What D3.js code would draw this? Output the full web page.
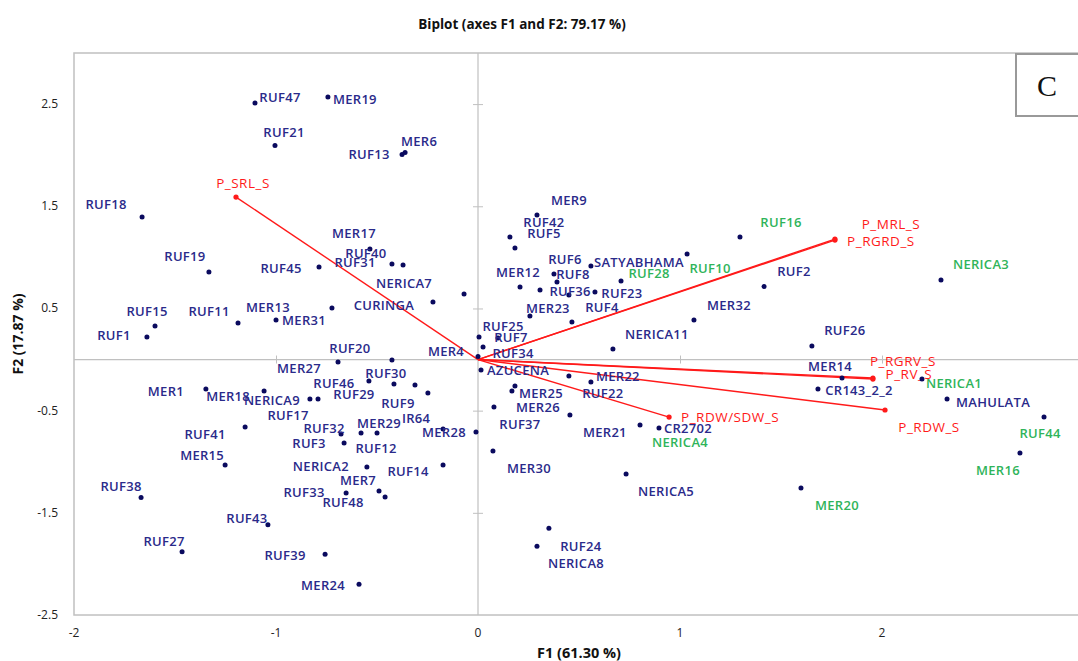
<!DOCTYPE html>
<html>
<head>
<meta charset="utf-8">
<script src="https://cdn.jsdelivr.net/npm/d3@7"></script>
<style>
  body { margin: 0; background: #fff; }
  text { font-family: "Open Sans", "Liberation Sans", sans-serif; }
</style>
</head>
<body>
<script>
// observations (genotypes)
var genotypes = ["RUF47","MER19","RUF21","RUF13","MER6","RUF18","RUF19","RUF45","MER17","RUF40",
  "RUF31","NERICA7","CURINGA","MER13","MER31","RUF11","RUF15","RUF1","MER27","RUF20",
  "MER4","MER9","RUF42","RUF5","RUF16","RUF10","SATYABHAMA","RUF6","RUF8","MER12",
  "RUF36","RUF23","RUF28","RUF4","MER23","RUF25","RUF7","RUF34","AZUCENA","NERICA11",
  "MER32","RUF2","NERICA3","RUF26","MER14","NERICA1","CR143_2_2","MAHULATA","RUF44","MER16",
  "MER20","MER22","RUF22","MER25","MER26","RUF37","MER21","CR2702","NERICA4","MER30",
  "NERICA5","RUF24","NERICA8","MER28","IR64","MER1","MER18","NERICA9","RUF17","RUF46",
  "RUF30","RUF29","RUF9","RUF41","RUF32","RUF12","MER29","RUF3","MER15","NERICA2",
  "RUF14","MER7","RUF48","RUF33","RUF38","RUF43","RUF27","RUF39","MER24",""];
var f1 = [-1.104,-0.743,-1.005,-0.376,-0.361,-1.663,-1.332,-0.787,-0.535,-0.426,
  -0.371,-0.069,-0.223,-0.723,-1.000,-1.188,-1.599,-1.639,-0.693,-0.426,
  0.000,0.292,0.158,0.183,1.297,1.035,0.559,0.376,0.391,0.208,
  0.307,0.579,0.708,0.465,0.257,0.005,0.099,0.025,0.015,0.668,
  1.069,1.416,2.292,1.653,1.802,2.198,1.683,2.322,2.802,2.683,
  1.599,0.559,0.450,0.183,0.168,0.079,0.455,0.896,0.802,0.074,
  0.733,0.351,0.292,-0.010,-0.173,-1.347,-1.059,-0.832,-0.792,-0.540,
  -0.416,-0.312,-0.248,-1.153,-0.678,-0.579,-0.500,-0.663,-1.252,-0.550,
  -0.173,-0.490,-0.460,-0.653,-1.668,-1.040,-1.465,-0.757,-0.589,0.450];
var f2 = [2.510,2.569,2.094,2.006,2.026,1.395,0.856,0.905,1.081,0.935,
  0.925,0.641,0.563,0.504,0.387,0.357,0.328,0.220,-0.024,-0.005,
  0.030,1.414,1.199,1.091,1.199,1.032,0.915,0.837,0.758,0.710,
  0.680,0.661,0.768,0.367,0.426,0.220,0.210,0.122,-0.103,0.103,
  0.386,0.714,0.778,0.132,-0.181,-0.191,-0.288,-0.386,-0.563,-0.915,
  -1.258,-0.220,-0.161,-0.259,-0.308,-0.465,-0.543,-0.670,-0.641,-0.895,
  -1.121,-1.651,-1.827,-0.710,-0.680,-0.289,-0.309,-0.387,-0.387,-0.210,
  -0.240,-0.249,-0.328,-0.661,-0.729,-0.719,-0.719,-0.817,-1.032,-1.052,
  -1.032,-1.287,-1.346,-1.306,-1.349,-1.616,-1.881,-1.906,-2.200,0.631];
var highlighted = ["RUF16","RUF10","RUF28","NERICA3","NERICA1","RUF44","MER16","MER20","NERICA4"];

// variables (loadings)
var variables = ["P_SRL_S","P_MRL_S","P_RGRD_S","P_RGRV_S","P_RV_S","P_RDW_S","P_RDW/SDW_S"];
var varF1 = [-1.198, 1.767, 1.767, 1.955, 1.955, 2.015, 0.946];
var varF2 = [1.590, 1.179, 1.169, -0.181, -0.191, -0.494, -0.563];

var xTicks = [-2, -1, 0, 1, 2];
var yTicks = [-2.5, -1.5, -0.5, 0.5, 1.5, 2.5];

// label placement, pixel offsets from the point
var labelOffset = {
  RUF47:[25,-6], MER19:[27,2], RUF21:[9,-14], RUF13:[-33,-1], MER6:[14,-12], RUF18:[-36,-13],
  RUF19:[-24,-16], RUF45:[-38,1], MER17:[-16,-16], RUF40:[-26,-11], RUF31:[-48,-3],
  NERICA7:[-60,-11], CURINGA:[-49,3], MER13:[-64,-1], MER31:[28,0], RUF11:[-29,-12],
  RUF15:[-8,-15], RUF1:[-33,-2], MER27:[-39,6], RUF20:[-42,-12], MER4:[-32,-5],
  MER9:[32,-15], RUF42:[34,-15], RUF5:[29,-15], RUF16:[41,-15], RUF10:[23,14],
  SATYABHAMA:[48,-4], RUF6:[11,-15], RUF8:[16,-8], MER12:[-2,-15], RUF36:[30,1],
  RUF23:[27,1], RUF28:[28,-8], RUF4:[30,-15], MER23:[18,-8], RUF25:[24,-11], RUF7:[13,-1],
  RUF34:[30,6], AZUCENA:[37,0], NERICA11:[44,-15], MER32:[35,-15], RUF2:[30,-16],
  NERICA3:[40,-16], RUF26:[33,-16], MER14:[-12,-12], NERICA1:[32,4], CR143_2_2:[41,1],
  MAHULATA:[46,3], RUF44:[-4,16], MER16:[-22,17], MER20:[36,17], MER22:[27,-6],
  RUF22:[34,17], MER25:[26,7], MER26:[26,16], RUF37:[26,17], MER21:[35,17], CR2702:[29,0],
  NERICA4:[40,17], MER30:[36,17], NERICA5:[40,17], RUF24:[32,18], NERICA8:[39,17],
  MER28:[-32,0], IR64:[-27,-11], MER1:[-40,2], MER18:[-36,5], NERICA9:[-38,1],
  RUF17:[-30,16], RUF46:[-35,2], RUF30:[-8,-11], RUF29:[-61,9], RUF9:[-30,10],
  RUF41:[-40,7], RUF32:[-17,-6], RUF12:[15,15], MER29:[2,-10], RUF3:[-35,0],
  MER15:[-23,-10], NERICA2:[-46,-1], RUF14:[-35,6], MER7:[-21,-11], RUF48:[-42,5],
  RUF33:[-42,-1], RUF38:[-20,-11], RUF43:[-21,-7], RUF27:[-18,-11], RUF39:[-40,1], MER24:[-36,1]
};
var varLabelOffset = {
  "P_SRL_S":[7,-14], "P_MRL_S":[56,-15], "P_RGRD_S":[46,1], "P_RGRV_S":[30,-17],
  "P_RV_S":[36,-5], "P_RDW_S":[44,17], "P_RDW/SDW_S":[61,0]
};

var width = 1078, height = 661;
var margin = {left: 74, top: 53, right: -6, bottom: 46};

var svg = d3.select("body").append("svg")
  .attr("width", width)
  .attr("height", height);

var x = d3.scaleLinear().domain([-2, 3]).range([margin.left, width - margin.right]);
var y = d3.scaleLinear().domain([-2.5, 3]).range([height - margin.bottom, margin.top]);

var navy = "#2a2a8a", dotCol = "#0a0a5e", green = "#2fb45a", red = "#ff1a1a", grey = "#c0c0c0";

// title
svg.append("text")
  .attr("x", 522).attr("y", 29)
  .attr("text-anchor", "middle")
  .style("font-size", "13.5px").style("font-weight", "bold").style("fill", "#111")
  .text("Biplot (axes F1 and F2: 79.17 %)");

// frame
svg.append("rect")
  .attr("x", x(-2)).attr("y", y(3))
  .attr("width", x(3) - x(-2)).attr("height", y(-2.5) - y(3))
  .attr("fill", "none").attr("stroke", grey).attr("stroke-width", 1.5);

// origin axes
svg.append("line")
  .attr("x1", x(-2)).attr("x2", x(3)).attr("y1", y(0)).attr("y2", y(0))
  .attr("stroke", grey).attr("stroke-width", 1.2);
svg.append("line")
  .attr("x1", x(0)).attr("x2", x(0)).attr("y1", y(3)).attr("y2", y(-2.5))
  .attr("stroke", grey).attr("stroke-width", 1.2);

// small tick crosses on the origin axes
var xAxis = d3.axisBottom(x).tickValues(xTicks.filter(function (d) { return d !== 0 && d !== -2; }))
  .tickSizeInner(4).tickSizeOuter(0).tickFormat("");
svg.append("g").attr("transform", "translate(0," + (y(0) - 4) + ")")
  .call(xAxis)
  .call(function (g) { g.select(".domain").remove(); g.selectAll("line").attr("stroke", grey).attr("y2", 8); });
var yAxis = d3.axisLeft(y).tickValues(yTicks.filter(function (d) { return d > -2.5; }))
  .tickSizeInner(5).tickSizeOuter(0).tickFormat("");
svg.append("g").attr("transform", "translate(" + (x(0) + 5) + ",0)")
  .call(yAxis)
  .call(function (g) { g.select(".domain").remove(); g.selectAll("line").attr("stroke", grey).attr("x2", -10); });

// outer tick labels
svg.append("g").selectAll("text").data(xTicks).enter().append("text")
  .attr("x", function (d) { return x(d); }).attr("y", 637)
  .attr("text-anchor", "middle")
  .style("font-size", "12px").style("fill", "#222")
  .text(function (d) { return d; });
svg.append("g").selectAll("text").data(yTicks).enter().append("text")
  .attr("x", 58).attr("y", function (d) { return y(d) + 4; })
  .attr("text-anchor", "end")
  .style("font-size", "12px").style("fill", "#222")
  .text(function (d) { return d; });

// axis titles
svg.append("text")
  .attr("x", (x(-2) + x(3)) / 2).attr("y", 658)
  .attr("text-anchor", "middle")
  .style("font-size", "14.5px").style("font-weight", "bold").style("fill", "#111")
  .text("F1 (61.30 %)");
svg.append("text")
  .attr("transform", "translate(23," + ((y(3) + y(-2.5)) / 2) + ") rotate(-90)")
  .attr("text-anchor", "middle")
  .style("font-size", "14px").style("font-weight", "bold").style("fill", "#111")
  .text("F2 (17.87 %)");

// variable vectors
var vars = variables.map(function (v, i) { return {name: v, f1: varF1[i], f2: varF2[i]}; });
svg.append("g").selectAll("line").data(vars).enter().append("line")
  .attr("x1", x(0)).attr("y1", y(0))
  .attr("x2", function (d) { return x(d.f1); })
  .attr("y2", function (d) { return y(d.f2); })
  .attr("stroke", red).attr("stroke-width", 1.4);
svg.append("g").selectAll("circle").data(vars).enter().append("circle")
  .attr("cx", function (d) { return x(d.f1); })
  .attr("cy", function (d) { return y(d.f2); })
  .attr("r", 2.6).attr("fill", red);
svg.append("g").selectAll("text").data(vars).enter().append("text")
  .attr("x", function (d) { return x(d.f1) + varLabelOffset[d.name][0]; })
  .attr("y", function (d) { return y(d.f2) + varLabelOffset[d.name][1]; })
  .attr("text-anchor", "middle").attr("dominant-baseline", "central")
  .style("font-size", "13.5px").style("letter-spacing", "0.5px").style("fill", red)
  .text(function (d) { return d.name; });

// observations
var obs = genotypes.map(function (g, i) { return {name: g, f1: f1[i], f2: f2[i]}; });
svg.append("g").selectAll("circle").data(obs).enter().append("circle")
  .attr("cx", function (d) { return x(d.f1); })
  .attr("cy", function (d) { return y(d.f2); })
  .attr("r", 2.5).attr("fill", dotCol);
svg.append("g").selectAll("text").data(obs.filter(function (d) { return d.name; })).enter().append("text")
  .attr("x", function (d) { return x(d.f1) + labelOffset[d.name][0]; })
  .attr("y", function (d) { return y(d.f2) + labelOffset[d.name][1]; })
  .attr("text-anchor", "middle").attr("dominant-baseline", "central")
  .style("font-size", "13px").style("font-weight", 600).style("letter-spacing", "0.3px")
  .style("fill", function (d) { return highlighted.indexOf(d.name) >= 0 ? green : navy; })
  .text(function (d) { return d.name; });

// panel letter
svg.append("rect")
  .attr("x", 1016).attr("y", 54).attr("width", 72).attr("height", 62)
  .attr("fill", "#fff").attr("stroke", "#999").attr("stroke-width", 2);
svg.append("text")
  .attr("x", 1047).attr("y", 96)
  .attr("text-anchor", "middle")
  .style("font-family", "'Liberation Serif', serif").style("font-size", "30px").style("fill", "#111")
  .text("C");
</script>
</body>
</html>
